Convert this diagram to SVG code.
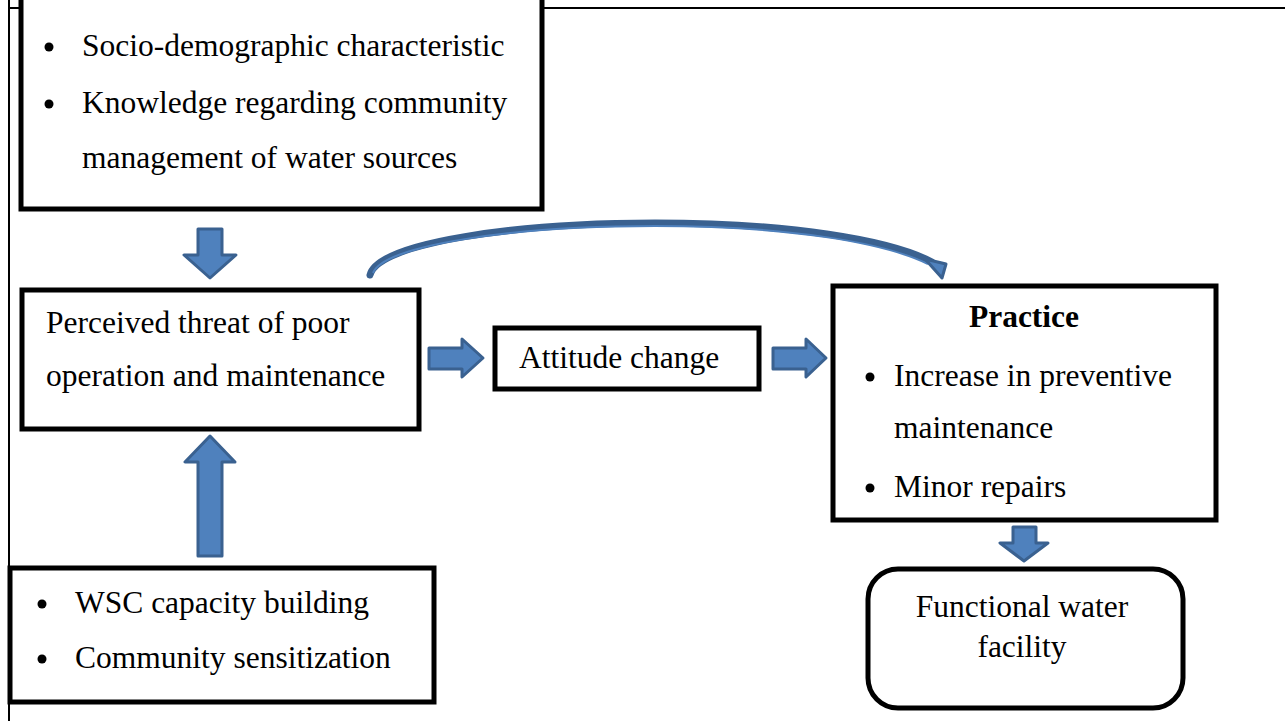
<svg xmlns="http://www.w3.org/2000/svg" width="1285" height="721" viewBox="0 0 1285 721">
<style>
.box{fill:#fff;stroke:#000;stroke-width:5}
.t{font-family:"Liberation Serif","Times New Roman",serif;font-size:31.5px;fill:#000}
.b{font-weight:bold}
.arr{fill:#4F81BD;stroke:#3A6190;stroke-width:3;stroke-linejoin:round}
</style>
<rect width="1285" height="721" fill="#fff"/>
<g id="frame" stroke="#000" stroke-width="2">
<line x1="9" y1="0" x2="9" y2="721"/>
<line x1="9" y1="8" x2="1285" y2="8"/>
</g>
<g id="node-factors">
<rect class="box" x="21" y="-20" width="521" height="229"/>
<circle cx="49" cy="47" r="4.5"/>
<circle cx="49" cy="104" r="4.5"/>
<text class="t" x="82" y="56">Socio-demographic characteristic</text>
<text class="t" x="82" y="113">Knowledge regarding community</text>
<text class="t" x="82" y="168">management of water sources</text>
</g>
<g id="node-threat">
<rect class="box" x="22" y="290" width="397" height="139"/>
<text class="t" x="46" y="333">Perceived threat of poor</text>
<text class="t" x="46" y="386">operation and maintenance</text>
</g>
<g id="node-interventions">
<rect class="box" x="10" y="568" width="424" height="134"/>
<circle cx="42" cy="604" r="4.5"/>
<circle cx="42" cy="659" r="4.5"/>
<text class="t" x="75" y="613">WSC capacity building</text>
<text class="t" x="75" y="668">Community sensitization</text>
</g>
<g id="node-attitude">
<rect class="box" x="495" y="328" width="264" height="61"/>
<text class="t" x="519" y="368">Attitude change</text>
</g>
<g id="node-practice">
<rect class="box" x="833" y="286" width="383" height="234"/>
<text class="t b" x="1024" y="327" text-anchor="middle">Practice</text>
<circle cx="870" cy="377" r="4.5"/>
<circle cx="870" cy="488" r="4.5"/>
<text class="t" x="894" y="386">Increase in preventive</text>
<text class="t" x="894" y="438">maintenance</text>
<text class="t" x="894" y="497">Minor repairs</text>
</g>
<g id="node-functional">
<rect class="box" x="868" y="569" width="315" height="139" rx="30" ry="30"/>
<text class="t" x="1022" y="617" text-anchor="middle">Functional water</text>
<text class="t" x="1022" y="657" text-anchor="middle">facility</text>
</g>
<g id="connectors">
<polygon class="arr" points="198,229 222,229 222,255 236,255 210,278 184,255 198,255"/>
<polygon class="arr" points="198,556 222,556 222,462 235,462 210,436 185,462 198,462"/>
<polygon class="arr" points="429,348 462,348 462,339 483,358 462,377 462,369 429,369"/>
<polygon class="arr" points="773,348 806,348 806,339 826,358 806,377 806,369 773,369"/>
<polygon class="arr" points="1013,527 1036,527 1036,543 1048,543 1024,561 1000,543 1013,543"/>
<path d="M 370 275 C 378 242, 520 223, 655 223 C 790 223, 890 240, 932 262" fill="none" stroke="#3A6190" stroke-width="7" stroke-linecap="round"/>
<path d="M 373 273 C 385 244, 520 226, 655 226 C 790 226, 885 243, 928 264" fill="none" stroke="#4F81BD" stroke-width="2"/>
<polygon class="arr" points="925,259 946,264 942,278"/>
</g>
</svg>
